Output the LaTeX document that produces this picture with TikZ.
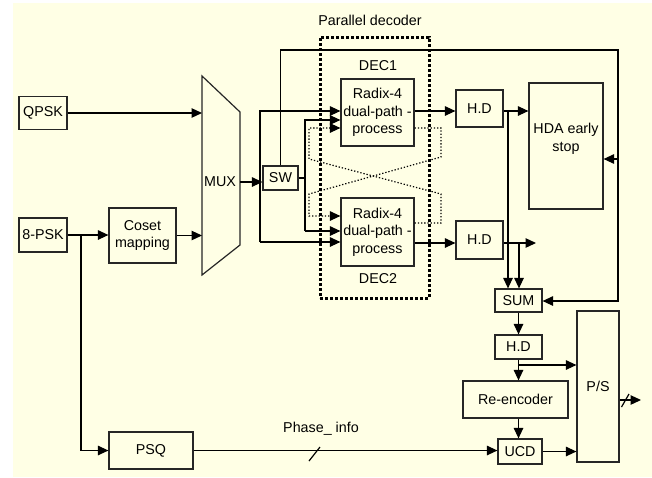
\documentclass[tikz,border=0pt]{standalone}
\usepackage{fontspec}
\setmainfont{Liberation Sans}
\usetikzlibrary{arrows.meta}
\definecolor{bgy}{RGB}{255,255,229}
\newcommand\dfont{\fontsize{14.3}{17.5}\selectfont}
\begin{document}
\begin{tikzpicture}[x=1pt,y=-1pt,line width=1.2pt,
  blk/.style={draw=black!85,line width=1.2pt,inner sep=0pt,align=center,font=\dfont},
  txt/.style={inner sep=0pt,align=center,font=\dfont},
  arr/.style={-{Triangle[length=10.5pt,width=9.5pt]}},
  thindot/.style={line width=1.2pt,dash pattern=on 1.3pt off 1.9pt},
  bigdot/.style={draw,line width=3pt,dash pattern=on 3pt off 2pt,inner sep=0pt}]
\useasboundingbox (0,0) rectangle (652,477);
\fill[bgy] (13,3) rectangle (652,477);

% blocks
\node[txt] (pd) at (370,20) {Parallel decoder};
\node[blk,minimum width=48,minimum height=33] (qpsk) at (43,113) {QPSK};
\node[blk,minimum width=48,minimum height=34] (psk8) at (43,235) {8-PSK};
\node[blk,minimum width=67,minimum height=55] (coset) at (142.5,235.5) {Coset\\mapping};
\coordinate (muxTL) at (202,76);
\coordinate (muxTR) at (240,112);
\coordinate (muxBR) at (240,245);
\coordinate (muxBL) at (202,275);
\draw[black!85] (muxTL) -- (muxTR) -- (muxBR) -- (muxBL) -- cycle;
\node[txt] (mux) at (220,182) {MUX};
\node[blk,minimum width=35,minimum height=24] (sw) at (280.5,178) {SW};
\node[blk,minimum width=73,minimum height=67] (dec1) at (377.5,112.5) {Radix-4\\dual-path -\\process};
\node[txt] (dec1l) at (378,66) {DEC1};
\node[blk,minimum width=73,minimum height=68] (dec2) at (377.5,232) {Radix-4\\dual-path -\\process};
\node[txt] (dec2l) at (378,279) {DEC2};
\node[blk,minimum width=47,minimum height=37] (hd1) at (479.5,108.5) {H.D};
\node[blk,minimum width=47,minimum height=38] (hd2) at (479.5,240) {H.D};
\node[blk,minimum width=74,minimum height=126] (hda) at (566,146) {};
\node[txt] (hdat) at (566,139) {HDA early\\stop};
\node[blk,minimum width=47,minimum height=23] (sum) at (518.5,300.5) {SUM};
\node[blk,minimum width=47,minimum height=24] (hd3) at (518.5,347) {H.D};
\node[blk,minimum width=105,minimum height=37] (reenc) at (515.5,399.5) {Re-encoder};
\node[blk,minimum width=44,minimum height=25] (ucd) at (520,451.5) {UCD};
\node[blk,minimum width=42,minimum height=151] (ps) at (598,386.5) {P/S};
\node[blk,minimum width=84,minimum height=37] (psq) at (151,450.5) {PSQ};
\node[txt] (phase) at (321,429) {Phase\_ info};

% inputs
\draw[arr] (qpsk.east) -- (qpsk.east -| muxTL);
\draw[arr] (psk8.east) -- (psk8.east -| coset.west);
\draw[arr] (coset.east) -- (coset.east -| muxBL);
\coordinate (br8) at (81,235);
\draw[arr] (br8) |- (psq.west);

% mux / switch
\coordinate (muxo) at (240,182);
\draw[arr] (muxo) -- (muxo -| sw.west);
\coordinate (ja) at (260,111);
\coordinate (jb) at (260,242);
\draw[arr] (jb) -- (ja) -- (ja -| dec1.west);
\draw[arr] (jb) -- (jb -| dec2.west);
\coordinate (jc) at (305,120);
\coordinate (jd) at (305,231);
\draw (sw.east) -- (sw.east -| jc);
\draw[arr] (jd) -- (jc) -- (jc -| dec1.west);
\draw[arr] (jd) -- (jd -| dec2.west);

% feedback line from SW
\coordinate (t2) at (618,50);
\coordinate (t3) at (618,301);
\coordinate (t4) at (618,159);
\draw[arr] (sw.north) |- (t2) -- (t3) -- (t3 -| sum.east);
\draw[arr] (t4) -- (t4 -| hda.east);

% crossover (dotted)
\coordinate (xr1) at (441,128);
\coordinate (xr2) at (441,157);
\coordinate (xr3) at (441,194);
\coordinate (xr4) at (441,223);
\coordinate (xl1) at (309,128);
\coordinate (xl2) at (309,159);
\coordinate (xl3) at (309,194);
\coordinate (xl4) at (309,216);
\draw[thindot,arr] (dec1.east |- xr1) -- (xr1) -- (xr2) -- (xl3) -- (xl4) -- (xl4 -| dec2.west);
\draw[thindot,arr] (dec2.east |- xr4) -- (xr4) -- (xr3) -- (xl2) -- (xl1) -- (xl1 -| dec1.west);

% decoder outputs
\coordinate (y1) at (0,111);
\draw[arr] (dec1.east |- y1) -- (hd1.west |- y1);
\draw[arr] (hd1.east |- y1) -- (hda.west |- y1);
\coordinate (v1) at (508,111);
\draw[arr] (v1) -- (v1 |- sum.north);
\coordinate (y2) at (0,243);
\draw[arr] (dec2.east |- y2) -- (hd2.west |- y2);
\coordinate (o2) at (536,243);
\draw[arr] (hd2.east |- y2) -- (o2);
\coordinate (v2) at (519,243);
\draw[arr] (v2) -- (v2 |- sum.north);

% back end
\draw[arr] (sum.south) -- (hd3.north);
\draw[arr] (hd3.south) -- (hd3.south |- reenc.north);
\coordinate (v3) at (518.5,365);
\draw[arr] (v3) -- (v3 -| ps.west);
\draw[arr] (hd3.south |- reenc.south) -- (hd3.south |- ucd.north);
\draw[arr] (psq.east) -- (psq.east -| ucd.west);
\draw[arr] (ucd.east) -- (ucd.east -| ps.west);
\coordinate (po) at (641,400);
\draw[arr] (ps.east |- po) -- (po);
\draw (621.5,407) -- (629,394);
\draw (309,461) -- (320,447);

% parallel decoder frame
\node[bigdot,minimum width=109,minimum height=261] (pdbox) at (374.5,167.5) {};
\end{tikzpicture}
\end{document}
